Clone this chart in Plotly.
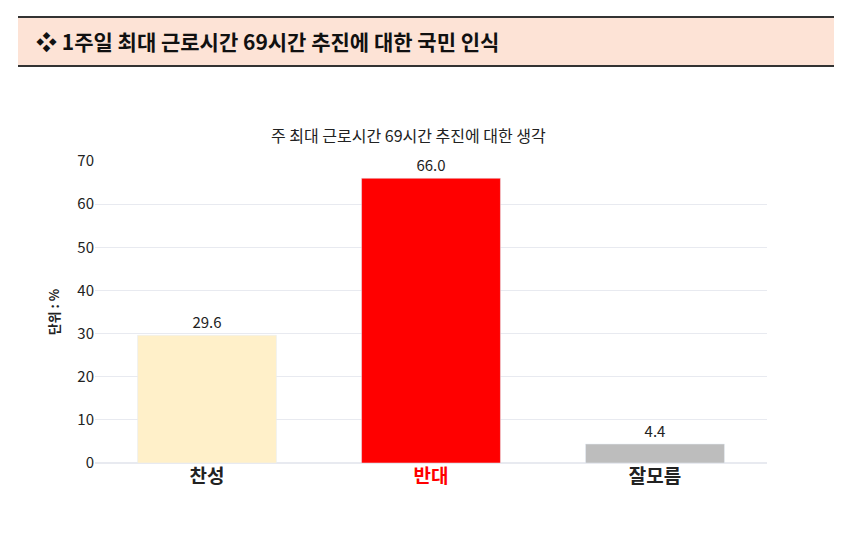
import plotly.graph_objects as go

categories = ["찬성", "반대", "잘모름"]
values = [29.6, 66.0, 4.4]
colors = ["#FFF0C9", "#FF0000", "#BDBDBD"]
tick_vals = [0, 10, 20, 30, 40, 50, 60, 70]

F = "Noto Sans CJK KR"
L, R, T, B = 87, 83, 153, 94
W, H = 842, 549
pw, ph = W - L - R, H - T - B
def px(x): return (x - L) / pw
def py(y): return (H - B - y) / ph

fig = go.Figure(go.Bar(
    x=categories, y=values, marker_color=colors, width=0.62,
    text=[f"{v:.1f}" for v in values], textposition="outside",
    textfont=dict(family=F, size=15, color="#222"), cliponaxis=False,
))
fig.update_layout(
    width=W, height=H, paper_bgcolor="white", plot_bgcolor="white",
    margin=dict(l=L, r=R, t=T, b=B),
    font=dict(family=F),
    showlegend=False,
    xaxis=dict(tickmode="array", tickvals=categories,
               ticktext=["<b>찬성</b>", "<span style='color:#FF0000'><b>반대</b></span>", "<b>잘모름</b>"],
               tickfont=dict(size=19, color="#222"), showline=False, ticks=""),
    yaxis=dict(range=[0, 70], tickvals=tick_vals, gridcolor="#E8EAF0",
               tickfont=dict(size=15, color="#222"), zeroline=True, zerolinecolor="#E8EAF0",
               title=dict(text="<b>단위 : %</b>", font=dict(size=13, color="#222"), standoff=14)),
    shapes=[
        dict(type="rect", xref="paper", yref="paper", x0=px(10), x1=px(832),
             y0=py(58), y1=py(9), fillcolor="#FDE3D6", line=dict(width=0), layer="below"),
        dict(type="line", xref="paper", yref="paper", x0=px(10), x1=px(832),
             y0=py(9), y1=py(9), line=dict(color="#333", width=2)),
        dict(type="line", xref="paper", yref="paper", x0=px(10), x1=px(832),
             y0=py(58), y1=py(58), line=dict(color="#333", width=2)),
    ],
    annotations=[
        dict(text="<b>❖ 1주일 최대 근로시간 69시간 추진에 대한 국민 인식</b>", xref="paper", yref="paper",
             x=px(26), y=py(33.5), xanchor="left", yanchor="middle", showarrow=False,
             font=dict(size=21, color="#111", family=F)),
        dict(text="주 최대 근로시간 69시간 추진에 대한 생각", xref="paper", yref="paper",
             x=px(400), y=py(127), xanchor="center", yanchor="middle", showarrow=False,
             font=dict(size=16, color="#222", family=F)),
    ],
)
fig.write_html("out.html")
